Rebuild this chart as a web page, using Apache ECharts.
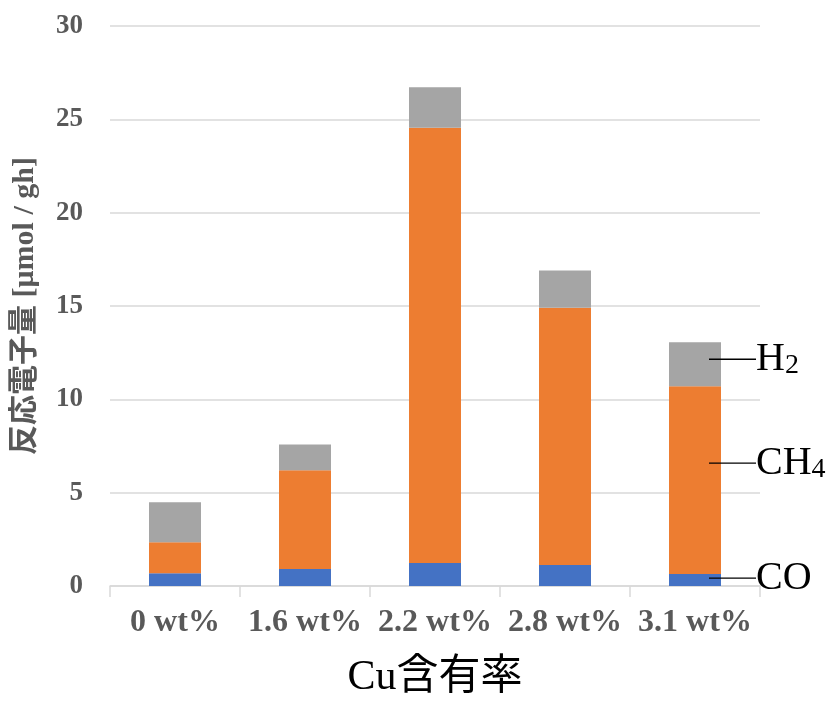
<!DOCTYPE html>
<html>
<head>
<meta charset="utf-8">
<script src="https://cdn.jsdelivr.net/npm/echarts@6/dist/echarts.min.js"></script>
<style>
  html, body { margin: 0; padding: 0; background: #fff; }
  #chart { width: 830px; height: 704px; }
</style>
</head>
<body>
<div id="chart"></div>
<script>
// Cu loading on the catalyst
const categories = ['0 wt%', '1.6 wt%', '2.2 wt%', '2.8 wt%', '3.1 wt%'];

// Reaction electron amount per product [μmol / gh]
const coValues  = [0.68, 0.91, 1.23, 1.12, 0.64];
const ch4Values = [1.66, 5.29, 23.32, 13.78, 10.06];
const h2Values  = [2.15, 1.38, 2.17, 2.00, 2.36];

// Product names: main part and subscript part
const seriesNames = ['CO', 'CH4', 'H2'];
const nameMain = ['CO', 'CH', 'H'];
const nameSub  = ['', '4', '2'];

const yTicks = { min: 0, max: 30, interval: 5 };

const serif = '"Liberation Serif", "Times New Roman", serif';
const serifCJK = '"Liberation Serif", "Noto Sans CJK JP", serif';
const grey = '#595959';

const chart = echarts.init(document.getElementById('chart'), null, { renderer: 'canvas' });

// Callout on the last bar: leader line + product name with subscript
function tagLabel(i, dy) {
  return {
    show: true,
    position: ['50%', '50%'],
    offset: [14, dy],
    align: 'left',
    verticalAlign: 'middle',
    formatter: function (p) {
      if (p.dataIndex !== categories.length - 1) return '';
      return '{ln|}{t|' + nameMain[i] + '}' + (nameSub[i] ? '{s|' + nameSub[i] + '}' : '');
    },
    rich: {
      ln: { width: 47, height: 1.3, backgroundColor: '#000' },
      t: { fontFamily: serif, fontSize: 40, lineHeight: 40, color: '#000' },
      s: { fontFamily: serif, fontSize: 28, lineHeight: 32, color: '#000', verticalAlign: 'bottom' }
    }
  };
}

const colors = ['#4472C4', '#ED7D31', '#A5A5A5'];
const values = [coValues, ch4Values, h2Values];
const labelDy = [-2, -17, -5];

chart.setOption({
  animation: false,
  backgroundColor: '#fff',
  grid: { left: 110, right: 70, top: 26, bottom: 117 },
  xAxis: {
    type: 'category',
    data: categories,
    boundaryGap: true,
    axisLine: { show: true, lineStyle: { color: '#d9d9d9', width: 1.5 } },
    axisTick: { show: true, length: 11, alignWithLabel: false, lineStyle: { color: '#d9d9d9', width: 1.5 } },
    axisLabel: {
      interval: 0, margin: 21,
      fontFamily: serif, fontWeight: 'bold', fontSize: 32, color: grey
    },
    name: 'Cu含有率',
    nameLocation: 'middle',
    nameGap: 71,
    nameTextStyle: { fontFamily: serifCJK, fontSize: 42, color: '#000' }
  },
  yAxis: {
    type: 'value',
    min: yTicks.min, max: yTicks.max, interval: yTicks.interval,
    axisLine: { show: false },
    axisTick: { show: false },
    splitLine: { show: true, lineStyle: { color: '#d9d9d9', width: 1.5 } },
    axisLabel: {
      margin: 27,
      fontFamily: serif, fontWeight: 'bold', fontSize: 27, color: grey
    },
    name: '反応電子量 [μmol / gh]',
    nameLocation: 'middle',
    nameRotate: 90,
    nameGap: 70,
    nameTextStyle: { fontFamily: serifCJK, fontWeight: 'bold', fontSize: 30, color: grey }
  },
  series: seriesNames.map(function (name, i) {
    return {
      name: name,
      type: 'bar',
      stack: 'total',
      barWidth: '40%',
      data: values[i],
      itemStyle: { color: colors[i] },
      label: tagLabel(i, labelDy[i]),
      emphasis: { disabled: true }
    };
  })
});
</script>
</body>
</html>
